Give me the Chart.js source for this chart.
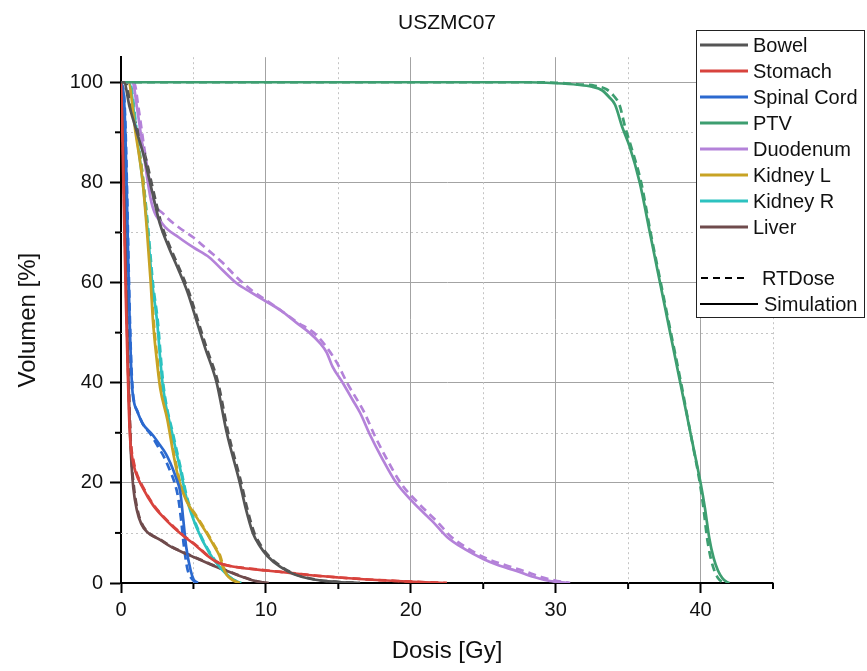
<!DOCTYPE html>
<html>
<head>
<meta charset="utf-8">
<script src="https://cdn.jsdelivr.net/npm/chart.js@4/dist/chart.umd.min.js"></script>
<style>
  html, body { margin: 0; padding: 0; background: #fff; }
  #wrap { width: 867px; height: 671px; position: relative; }
</style>
</head>
<body>
<div id="wrap"><canvas id="dvh"></canvas></div>
<script>
// DVH curves, [dose Gy, volume %]
const structureNames = ["Bowel", "Stomach", "Spinal Cord", "PTV", "Duodenum", "Kidney L", "Kidney R", "Liver"];
const structureColors = ["#555555", "#d8433d", "#2b69cf", "#3d9e70", "#b482d9", "#c8a324", "#2cc2c0", "#6f4b4c"];

const xMajorTicks = [0, 10, 20, 30, 40];
const xMinorTicks = [5, 15, 25, 35, 45];
const yMajorTicks = [0, 20, 40, 60, 80, 100];
const yMinorTicks = [10, 30, 50, 70, 90];

const bowelSim = [[0,100],[0.2,100],[0.6,95],[1.1,90],[1.6,85],[2,80],[2.4,75],[2.7,71.6],[3.3,67],[3.9,63],[4.6,58],[5.2,52.5],[5.8,47],[6.6,40],[7.3,30],[8.2,20],[8.6,15],[9.1,10],[9.6,7.3],[10.1,5.4],[11,3.2],[11.9,1.8],[13.3,0.7],[15,0.2],[16.5,0]];
const bowelRt = [[0,100],[0.3,100],[0.7,95],[1.2,90],[1.7,85],[2.1,80],[2.5,75],[2.8,71.6],[3.4,67],[4,63],[4.7,58],[5.3,52.5],[5.9,47],[6.7,40],[7.4,30],[8.3,20],[8.7,15],[9.2,10],[9.7,7.3],[10.2,5.4],[11.1,3.2],[12,1.8],[13.4,0.7],[15.1,0.2],[16.5,0]];

const stomachSim = [[0,100],[0.08,92],[0.15,82],[0.25,68],[0.35,55],[0.45,44],[0.55,34],[0.65,28],[0.8,24.6],[1,22.2],[1.5,19],[2.2,15.6],[2.9,13.2],[3.6,11.2],[4.4,9.2],[5.2,7.4],[5.9,5.6],[6.6,4.2],[7.5,3.4],[8.4,3],[10,2.5],[11.7,2],[13.3,1.5],[15,1.1],[17,0.7],[19,0.4],[21,0.15],[22.5,0]];
const stomachRt = [[0,100],[0.1,92],[0.18,82],[0.28,68],[0.38,55],[0.48,44],[0.58,34],[0.68,28],[0.85,24.6],[1.05,22.2],[1.55,19],[2.25,15.6],[2.95,13.2],[3.65,11.2],[4.45,9.2],[5.25,7.4],[5.95,5.6],[6.65,4.2],[7.55,3.4],[8.5,3],[10.1,2.5],[11.8,2],[13.4,1.5],[15.1,1.1],[17.1,0.7],[19.1,0.4],[21,0.15],[22.5,0]];

const spinalSim = [[0,100],[0.2,97],[0.3,90],[0.4,78],[0.5,64],[0.6,52],[0.7,43],[0.8,38],[0.95,35.5],[1.1,34.4],[1.5,31.8],[2.2,29.5],[2.7,27.5],[3.1,25.8],[3.4,24],[3.8,21],[4.1,18],[4.3,12.6],[4.5,7.2],[4.8,2.6],[5,0.8],[5.3,0]];
const spinalRt = [[0,100],[0.22,97],[0.32,90],[0.42,78],[0.52,64],[0.62,52],[0.72,43],[0.82,38],[0.97,35.5],[1.12,34.4],[1.5,31.8],[2.1,29.5],[2.6,27],[3,25],[3.3,23],[3.7,20],[3.95,17],[4.15,12.6],[4.35,7.2],[4.6,2.6],[4.9,0.8],[5.2,0]];

const ptvSim = [[0,100],[28,100],[30,99.8],[31.5,99.5],[32.5,99.1],[33.2,98.4],[33.7,97],[34.1,95.5],[34.6,91],[35.1,87.2],[35.8,80],[36.5,70],[37.2,60],[37.9,50],[38.6,40],[39.3,30],[40,20],[40.3,15],[40.6,9],[40.9,5],[41.2,2.5],[41.5,1],[41.8,0.2],[42,0]];
const ptvRt = [[0,100],[28,100],[30,99.9],[31.5,99.6],[32.7,99.3],[33.5,98.6],[34,97.3],[34.4,95.5],[34.8,91],[35.2,87.2],[35.9,80],[36.55,70],[37.25,60],[37.95,50],[38.65,40],[39.3,30],[39.95,20],[40.2,15],[40.45,9],[40.7,5],[40.95,2.5],[41.2,1],[41.5,0.2],[41.7,0]];

const duodenumSim = [[0,100],[0.8,100],[1.1,95],[1.5,87],[2.1,76],[2.9,71.6],[4,69],[5,67],[6.1,65],[7,62.5],[8,59.8],[9,58],[9.8,56.6],[11,54.5],[12.1,52],[13,50],[13.7,48],[14.2,46],[14.6,43.2],[15.3,40],[16,36.5],[16.5,34],[17.2,29.5],[18,25],[19,20],[20.2,16],[21.5,12.3],[22.5,9.2],[23.7,6.8],[25,4.8],[26,3.6],[27.3,2.4],[28.5,1.2],[29.6,0.4],[30.8,0]];
const duodenumRt = [[0,100],[0.9,100],[1.2,95],[1.6,87],[2.2,77],[3,73.5],[4,71],[5,69],[6,66.5],[7,64],[8,61],[9,58.5],[10,56.5],[11,54.5],[12.2,52],[13.3,50],[14,47.8],[14.9,44],[15.6,40],[16.8,34],[17.5,29.5],[18.3,25],[19.3,20],[20.5,16],[21.8,12.3],[22.8,9.2],[24,6.8],[25.3,4.8],[26.5,3.6],[27.8,2.4],[29,1.2],[30.1,0.4],[31,0]];

const kidneyLSim = [[0,100],[0.5,100],[1,90],[1.5,80],[1.8,70],[2.05,60],[2.2,52.6],[2.45,45],[2.7,39],[3.2,32.6],[3.6,26],[4,20.5],[4.5,16.5],[5.2,13.2],[5.9,10],[6.4,7.5],[6.8,5.4],[7,3.4],[7.3,1.6],[7.7,0.6],[8.2,0]];
const kidneyLRt = [[0,100],[0.55,100],[1.05,90],[1.55,80],[1.85,70],[2.1,60],[2.25,52.6],[2.5,45],[2.75,39],[3.25,32.6],[3.65,26],[4.05,20.5],[4.55,16.5],[5.25,13.2],[5.95,10],[6.45,7.5],[6.85,5.4],[7.05,3.4],[7.35,1.6],[7.75,0.6],[8.2,0]];

const kidneyRSim = [[0,100],[0.55,100],[1.05,90],[1.5,80],[1.85,70],[2.15,60],[2.5,52],[2.7,45],[2.9,39],[3.6,29],[4.1,22.6],[4.5,17.2],[5.2,11.2],[6.1,6],[7,2.6],[7.6,1],[8,0.3],[8.3,0]];
const kidneyRRt = [[0,100],[0.6,100],[1.1,90],[1.55,80],[1.9,70],[2.2,60],[2.55,52],[2.75,45],[2.95,39],[3.65,29],[4.15,22.6],[4.55,17.2],[5.25,11.2],[6.15,6],[7.05,2.6],[7.6,1],[8,0.3],[8.3,0]];

const liverSim = [[0,100],[0.1,95],[0.2,85],[0.3,70],[0.4,55],[0.5,42],[0.6,32],[0.7,25],[0.85,19],[1.1,14.5],[1.4,11.8],[1.8,10.2],[2.7,8.6],[3.4,7.3],[4.2,6.2],[5,5.2],[5.8,4.2],[6.6,3.2],[7.5,2.2],[8.4,1.2],[9,0.6],[9.6,0.2],[10.2,0]];
const liverRt = [[0,100],[0.12,95],[0.22,85],[0.32,70],[0.42,55],[0.52,42],[0.62,32],[0.72,25],[0.9,19],[1.15,14.5],[1.45,11.8],[1.85,10.2],[2.75,8.6],[3.45,7.3],[4.25,6.2],[5.05,5.2],[5.85,4.2],[6.65,3.2],[7.55,2.2],[8.45,1.2],[9.05,0.6],[9.65,0.2],[10.2,0]];

const simCurves = [bowelSim, stomachSim, spinalSim, ptvSim, duodenumSim, kidneyLSim, kidneyRSim, liverSim];
const rtCurves = [bowelRt, stomachRt, spinalRt, ptvRt, duodenumRt, kidneyLRt, kidneyRRt, liverRt];

const FONT = "'Liberation Sans', Arial, sans-serif";

function toPoints(pairs) {
  return pairs.map(p => ({ x: p[0], y: p[1] }));
}

const datasets = [];
// solid (Simulation) drawn on top, dashed (RTDose) underneath
simCurves.forEach((curve, i) => {
  datasets.push({
    label: structureNames[i] + " Simulation",
    data: toPoints(curve),
    borderColor: structureColors[i],
    borderWidth: 2.7,
    pointRadius: 0,
    cubicInterpolationMode: "monotone",
    order: 1
  });
});
rtCurves.forEach((curve, i) => {
  datasets.push({
    label: structureNames[i] + " RTDose",
    data: toPoints(curve),
    borderColor: structureColors[i],
    borderWidth: 2.7,
    borderDash: [8, 5],
    pointRadius: 0,
    cubicInterpolationMode: "monotone",
    order: 2
  });
});

const minorGrid = {
  id: "minorGrid",
  beforeDatasetsDraw(chart) {
    const { ctx, chartArea, scales } = chart;
    ctx.save();
    ctx.strokeStyle = "#c4c4c4";
    ctx.lineWidth = 1;
    ctx.setLineDash([2, 3]);
    xMinorTicks.forEach(v => {
      const px = Math.round(scales.x.getPixelForValue(v)) + 0.5;
      ctx.beginPath();
      ctx.moveTo(px, chartArea.top);
      ctx.lineTo(px, chartArea.bottom);
      ctx.stroke();
    });
    yMinorTicks.forEach(v => {
      const py = Math.round(scales.y.getPixelForValue(v)) + 0.5;
      ctx.beginPath();
      ctx.moveTo(chartArea.left, py);
      ctx.lineTo(chartArea.right, py);
      ctx.stroke();
    });
    ctx.restore();
  },
  afterDraw(chart) {
    const { ctx, chartArea, scales } = chart;
    ctx.save();
    ctx.strokeStyle = "#000";
    ctx.lineWidth = 2;
    xMinorTicks.forEach(v => {
      const px = scales.x.getPixelForValue(v);
      ctx.beginPath();
      ctx.moveTo(px, chartArea.bottom);
      ctx.lineTo(px, chartArea.bottom + 6);
      ctx.stroke();
    });
    yMinorTicks.forEach(v => {
      const py = scales.y.getPixelForValue(v);
      ctx.beginPath();
      ctx.moveTo(chartArea.left - 6, py);
      ctx.lineTo(chartArea.left, py);
      ctx.stroke();
    });
    ctx.restore();
  }
};

const boxLegend = {
  id: "boxLegend",
  afterDraw(chart) {
    const ctx = chart.ctx;
    const left = 696, top = 30, width = 169, height = 288;
    ctx.save();
    ctx.fillStyle = "#fff";
    ctx.fillRect(left, top, width, height);
    ctx.strokeStyle = "#222";
    ctx.lineWidth = 1;
    ctx.strokeRect(left + 0.5, top + 0.5, width - 1, height - 1);

    ctx.font = "20px " + FONT;
    ctx.textBaseline = "middle";
    ctx.fillStyle = "#111";
    structureNames.forEach((name, i) => {
      const y = 45 + i * 26;
      ctx.strokeStyle = structureColors[i];
      ctx.lineWidth = 3;
      ctx.beginPath();
      ctx.moveTo(700, y);
      ctx.lineTo(748, y);
      ctx.stroke();
      ctx.fillText(name, 753, y + 1);
    });

    ctx.strokeStyle = "#000";
    ctx.lineWidth = 2;
    ctx.setLineDash([7, 5]);
    ctx.beginPath();
    ctx.moveTo(701, 278);
    ctx.lineTo(746, 278);
    ctx.stroke();
    ctx.setLineDash([]);
    ctx.fillText("RTDose", 762, 279);

    ctx.beginPath();
    ctx.moveTo(700, 304);
    ctx.lineTo(758, 304);
    ctx.stroke();
    ctx.fillText("Simulation", 764, 305);
    ctx.restore();
  }
};

new Chart(document.getElementById("dvh"), {
  type: "line",
  data: { datasets: datasets },
  plugins: [minorGrid, boxLegend],
  options: {
    responsive: true,
    maintainAspectRatio: false,
    animation: false,
    parsing: false,
    layout: { padding: { left: 0, right: 94, top: 0, bottom: 0 } },
    plugins: {
      legend: { display: false },
      tooltip: { enabled: false },
      title: {
        display: true,
        text: "USZMC07",
        fullSize: false,
        color: "#111",
        font: { family: FONT, size: 21, weight: "normal", lineHeight: 1.2 },
        padding: { top: 11, bottom: 21 }
      }
    },
    scales: {
      x: {
        type: "linear",
        min: 0,
        max: 45,
        afterFit: scale => { scale.height = 88; },
        afterBuildTicks: scale => { scale.ticks = xMajorTicks.map(v => ({ value: v })); },
        ticks: {
          color: "#111",
          padding: 5,
          font: { family: FONT, size: 20 },
          maxRotation: 0
        },
        grid: {
          color: "#a3a3a3",
          lineWidth: 1,
          tickColor: "#000",
          tickWidth: 2,
          tickLength: 10
        },
        border: { color: "#000", width: 2 },
        title: {
          display: true,
          text: "Dosis [Gy]",
          color: "#111",
          font: { family: FONT, size: 24 },
          padding: { top: 0, bottom: 5 }
        }
      },
      y: {
        type: "linear",
        min: 0,
        max: 105,
        afterFit: scale => { scale.width = 121; },
        afterBuildTicks: scale => { scale.ticks = yMajorTicks.map(v => ({ value: v })); },
        ticks: {
          color: "#111",
          padding: 7,
          font: { family: FONT, size: 20 }
        },
        grid: {
          color: "#a3a3a3",
          lineWidth: 1,
          tickColor: "#000",
          tickWidth: 2,
          tickLength: 11
        },
        border: { color: "#000", width: 2 },
        title: {
          display: true,
          text: "Volumen [%]",
          color: "#111",
          font: { family: FONT, size: 24 },
          padding: { top: 14, bottom: 0 }
        }
      }
    }
  }
});
</script>
</body>
</html>
